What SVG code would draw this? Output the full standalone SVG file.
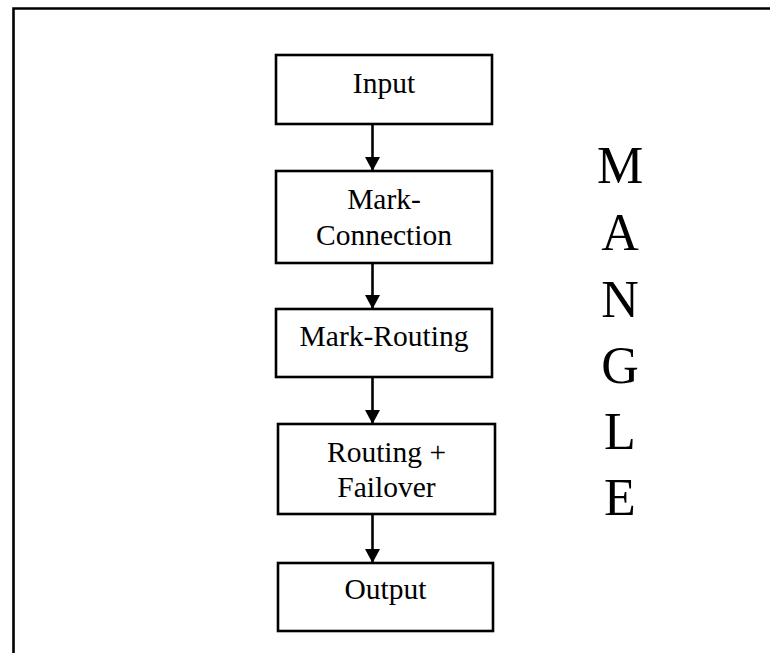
<svg xmlns="http://www.w3.org/2000/svg" width="770" height="653" viewBox="0 0 770 653">
<style>
.box{fill:#fff;stroke:#000;stroke-width:2.6}
.t{font-family:"Liberation Serif","Times New Roman",serif;font-size:29.5px;fill:#000;text-anchor:middle}
.big{font-family:"Liberation Serif","Times New Roman",serif;font-size:52px;fill:#000;text-anchor:middle}
.ln{stroke:#000;stroke-width:2.6;fill:none}
</style>
<defs>
<marker id="ah" markerUnits="userSpaceOnUse" markerWidth="16" markerHeight="16" refX="14" refY="7.5" orient="auto">
<path d="M0,0 L14,7.5 L0,15 Z" fill="#000"/>
</marker>
</defs>
<rect width="770" height="653" fill="#fff"/>
<g id="frame"><path d="M13.5,653 V8.5 H770" class="ln" stroke-width="3"/></g>
<g id="connectors">
<line x1="372.5" y1="124" x2="372.5" y2="171" class="ln" marker-end="url(#ah)"/>
<line x1="372.5" y1="263" x2="372.5" y2="309" class="ln" marker-end="url(#ah)"/>
<line x1="372.5" y1="377" x2="372.5" y2="424" class="ln" marker-end="url(#ah)"/>
<line x1="372.5" y1="514" x2="372.5" y2="563" class="ln" marker-end="url(#ah)"/>
</g>
<g id="input"><rect class="box" x="276" y="55" width="216" height="69"/><text class="t" x="384" y="93">Input</text></g>
<g id="mark-connection"><rect class="box" x="276" y="171" width="216" height="92"/><text class="t" x="384" y="209">Mark-</text><text class="t" x="384" y="245">Connection</text></g>
<g id="mark-routing"><rect class="box" x="276" y="309" width="216" height="68"/><text class="t" x="384" y="346">Mark-Routing</text></g>
<g id="routing-failover"><rect class="box" x="278" y="424" width="217" height="90"/><text class="t" x="386.5" y="462">Routing +</text><text class="t" x="386.5" y="497">Failover</text></g>
<g id="output"><rect class="box" x="278" y="563" width="215" height="68"/><text class="t" x="385.5" y="599">Output</text></g>
<g id="mangle">
<text class="big" x="620" y="183">M</text>
<text class="big" x="620" y="250">A</text>
<text class="big" x="620" y="316.5">N</text>
<text class="big" x="620" y="383">G</text>
<text class="big" x="620" y="448.5">L</text>
<text class="big" x="620" y="515">E</text>
</g>
</svg>
